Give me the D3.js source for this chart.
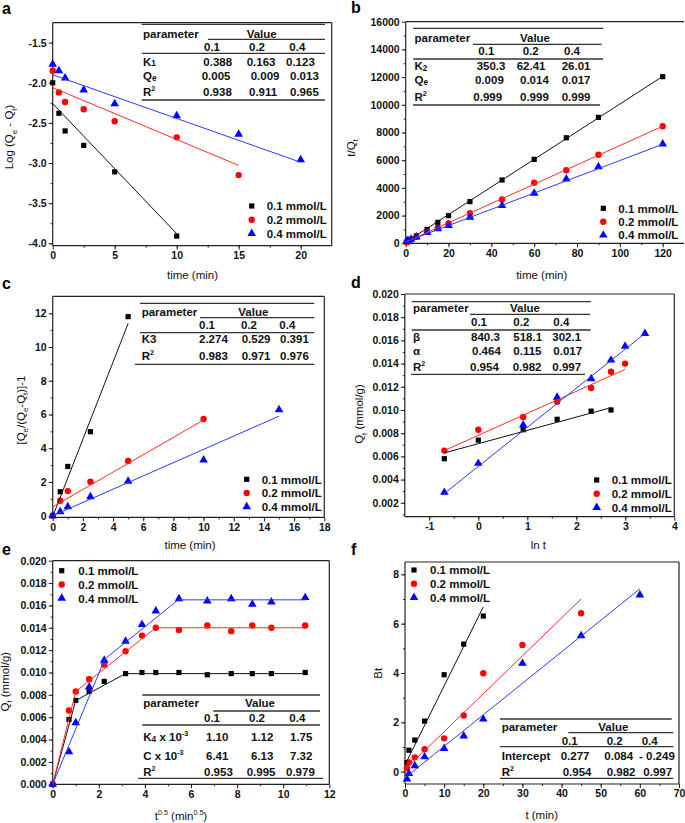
<!DOCTYPE html>
<html><head><meta charset="utf-8">
<script src="https://cdn.jsdelivr.net/npm/d3@7"></script>
<style>
body{margin:0;background:#fff}
text{font-family:"Liberation Sans",Arial,Helvetica,sans-serif}
</style>
</head><body>
<svg id="c" width="685" height="823"></svg>
<script>
// ---------------- DATA ----------------
const seriesLabels = ["0.1 mmol/L", "0.2 mmol/L", "0.4 mmol/L"];
const concHeaders = ["0.1", "0.2", "0.4"];

// (a) pseudo-first-order
const aTime = [0, 0.5, 1, 2.5, 5, 10, 15, 20];
const aLog01 = [-2.00, -2.38, -2.60, -2.78, -3.11, -3.91];
const aLog02 = [-1.85, -2.12, -2.24, -2.33, -2.48, -2.68, -3.15];
const aLog04 = [-1.77, -1.85, -1.94, -2.09, -2.26, -2.41, -2.64, -2.96];
const aFit01 = [[0, -2.26], [10, -3.88]];
const aFit02 = [[0, -2.06], [15, -3.03]];
const aFit04 = [[0, -1.90], [20, -2.99]];
const aXTicks = [0, 5, 10, 15, 20];
const aYTicks = [-4.0, -3.5, -3.0, -2.5, -2.0, -1.5];
const aRowLabels = [[["K", ""], ["1", "low"]], [["Q", ""], ["e", "low"]], [["R", ""], ["2", "sup"]]];
const aValues = [["0.388", "0.163", "0.123"], ["0.005", "0.009", "0.013"], ["0.938", "0.911", "0.965"]];

// (b) pseudo-second-order
const bTime = [0.5, 1, 2.5, 5, 10, 15, 20, 30, 45, 60, 75, 90, 120];
const bTQ01 = [86, 133, 300, 540, 1000, 1510, 2000, 3010, 4570, 6060, 7620, 9090, 12030];
const bTQ02 = [76, 120, 266, 467, 840, 1128, 1430, 2170, 3170, 4380, 5270, 6400, 8450];
const bTQ04 = [172, 182, 287, 450, 780, 1050, 1290, 1877, 2720, 3610, 4640, 5530, 7170];
const bFit01 = [[0, 80], [120, 12050]];
const bFit02 = [[0, 90], [120, 8450]];
const bFit04 = [[0, 110], [120, 7150]];
const bXTicks = [0, 20, 40, 60, 80, 100, 120];
const bYTicks = [0, 2000, 4000, 6000, 8000, 10000, 12000, 14000, 16000];
const bRowLabels = [[["K", ""], ["2", "low"]], [["Q", ""], ["e", "low"]], [["R", ""], ["2", "sup"]]];
const bValues = [["350.3", "62.41", "26.01"], ["0.009", "0.014", "0.017"], ["0.999", "0.999", "0.999"]];

// (c)
const cTime = [0, 0.5, 1, 2.5, 5, 10, 15];
const cY01 = [0, 1.42, 2.92, 4.98, 11.8];
const cY02 = [0, 0.89, 1.46, 2.02, 3.24, 5.73];
const cY04 = [0, 0.24, 0.53, 1.13, 2.04, 3.30, 6.28];
const cFit01 = [[0, -0.05], [5, 11.4]];
const cFit02 = [[0, 0.53], [10, 5.67]];
const cFit04 = [[0, 0], [15, 5.9]];
const cXTicks = [0, 2, 4, 6, 8, 10, 12, 14, 16, 18];
const cYTicks = [0, 2, 4, 6, 8, 10, 12];
const cRowLabels = [[["K3", ""]], [["R", ""], ["2", "sup"]]];
const cValues = [["2.274", "0.529", "0.391"], ["0.983", "0.971", "0.976"]];

// (d) Elovich
const dLnT = [-0.693, 0, 0.916, 1.609, 2.303, 2.708, 2.996, 3.401];
const dQ01 = [0.0058, 0.0074, 0.0083, 0.0092, 0.0099, 0.0100];
const dQ02 = [0.0065, 0.0083, 0.0094, 0.0107, 0.0119, 0.0133, 0.0140];
const dQ04 = [0.0029, 0.0054, 0.0087, 0.0111, 0.0127, 0.0143, 0.0155, 0.0166];
const dFit01 = [[-0.693, 0.0063], [2.708, 0.0102]];
const dFit02 = [[-0.693, 0.0065], [2.996, 0.0135]];
const dFit04 = [[-0.693, 0.0028], [3.401, 0.0166]];
const dXTicks = [-1, 0, 1, 2, 3, 4];
const dYTicks = [0.002, 0.004, 0.006, 0.008, 0.010, 0.012, 0.014, 0.016, 0.018, 0.020];
const dRowLabels = [[["β", ""]], [["α", ""]], [["R", ""], ["2", "sup"]]];
const dValues = [["840.3", "518.1", "302.1"], ["0.464", "0.115", "0.017"], ["0.954", "0.982", "0.997"]];

// (e) intraparticle diffusion
const eSqrtT = [0, 0.707, 1, 1.581, 2.236, 3.162, 3.873, 4.472, 5.477, 6.708, 7.746, 8.660, 9.487, 10.954];
const eQ01 = [0, 0.0058, 0.0075, 0.0083, 0.0092, 0.0099, 0.0100, 0.0100, 0.0100, 0.0098, 0.0099, 0.0099, 0.0099, 0.0100];
const eQ02 = [0, 0.0066, 0.0083, 0.0094, 0.0107, 0.0119, 0.0133, 0.0140, 0.0138, 0.0142, 0.0137, 0.0142, 0.0140, 0.0142];
const eQ04 = [0, 0.0029, 0.0055, 0.0087, 0.0111, 0.0128, 0.0143, 0.0155, 0.0166, 0.0164, 0.0166, 0.0161, 0.0163, 0.0167];
const eFit01 = [[0, 0], [1, 0.0075], [3.162, 0.0099], [10.954, 0.0099]];
const eFit02 = [[0, 0], [1, 0.0083], [4.47, 0.0140], [10.954, 0.0140]];
const eFit04 = [[0, 0], [2.26, 0.0112], [5.45, 0.0165], [10.954, 0.0165]];
const eXTicks = [0, 2, 4, 6, 8, 10, 12];
const eYTicks = [0, 0.002, 0.004, 0.006, 0.008, 0.010, 0.012, 0.014, 0.016, 0.018, 0.020];
const eRowLabels = [[["K", ""], ["4", "low"], [" x 10", ""], ["-3", "sup"]], [["C x 10", ""], ["-3", "sup"]], [["R", ""], ["2", "sup"]]];
const eValues = [["1.10", "1.12", "1.75"], ["6.41", "6.13", "7.32"], ["0.953", "0.995", "0.979"]];

// (f) Boyd
const fTime = [0.5, 1, 2.5, 5, 10, 15, 20, 30, 45, 60];
const fBt01 = [0.37, 0.87, 1.28, 2.05, 3.93, 5.17, 6.31];
const fBt02 = [0.14, 0.37, 0.58, 0.91, 1.35, 2.28, 3.99, 5.14, 6.42];
const fBt04 = [-0.30, -0.08, 0.24, 0.60, 0.94, 1.45, 2.13, 4.39, 5.51, 7.16];
const fFit01 = [[0, 0.277], [20, 6.68]];
const fFit02 = [[0, 0.084], [45, 7.0]];
const fFit04 = [[0, -0.249], [60, 7.41]];
const fXTicks = [0, 10, 20, 30, 40, 50, 60, 70];
const fYTicks = [0, 2, 4, 6, 8];
const fRowLabels = [[["Intercept", ""]], [["R", ""], ["2", "sup"]]];
const fValues = [["0.277", "0.084", "- 0.249"], ["0.954", "0.982", "0.997"]];

// ---------------- DRAWING ----------------
const svg = d3.select("#c");
const colors = ["#000000", "#ff0000", "#0000ff"];
const lineColors = ["#111111", "#ff2a2a", "#2a3cff"];
const symbols = [d3.symbol(d3.symbolSquare, 27)(), d3.symbol(d3.symbolCircle, 32)(), d3.symbol(d3.symbolTriangle, 32)()];

function rich(t, parts, size) {
  let cur = 0;
  parts.forEach(([s, k]) => {
    let target = 0, fs = size;
    if (k === "sub") { target = size * 0.3; fs = size * 0.68; }
    else if (k === "sup") { target = -size * 0.42; fs = size * 0.62; }
    else if (k === "low") { target = size * 0.08; fs = size * 0.72; }
    t.append("tspan").attr("dy", target - cur).attr("font-size", fs).text(s);
    cur = target;
  });
}

function drawPanel(p) {
  const g = svg.append("g");
  const x = d3.scaleLinear().domain(p.xDom).range([p.L, p.R]);
  const y = d3.scaleLinear().domain(p.yDom).range([p.B, p.T]);

  const minorX = d3.range(p.xDom[0], p.xDom[1] + 1e-9, p.xMinorStep).filter(v => v > p.xDom[0] + 1e-9 && v < p.xDom[1] - 1e-9);
  const minorY = d3.range(Math.ceil(p.yDom[0] / p.yMinorStep - 1e-6) * p.yMinorStep, p.yDom[1] + 1e-12, p.yMinorStep).filter(v => v > p.yDom[0] && v < p.yDom[1] - 1e-12);

  g.append("g").attr("transform", `translate(0,${p.B})`)
    .call(d3.axisBottom(x).tickValues(minorX).tickFormat("").tickSize(2).tickSizeOuter(0));
  g.append("g").attr("transform", `translate(${p.L},0)`)
    .call(d3.axisLeft(y).tickValues(minorY).tickFormat("").tickSize(2).tickSizeOuter(0));
  g.append("g").attr("class", "ax").attr("transform", `translate(0,${p.B})`)
    .call(d3.axisBottom(x).tickValues(p.xTicks).tickFormat(p.xFmt).tickSize(4).tickPadding(2).tickSizeOuter(0));
  g.append("g").attr("class", "ax").attr("transform", `translate(${p.L},0)`)
    .call(d3.axisLeft(y).tickValues(p.yTicks).tickFormat(p.yFmt).tickSize(4).tickPadding(2).tickSizeOuter(0));
  g.selectAll(".domain").remove();
  g.selectAll(".tick line").attr("stroke", "#222").attr("stroke-width", 1);
  g.selectAll(".tick text").attr("font-size", 10.5).attr("font-weight", "bold").attr("fill", "#111")
    .attr("font-family", '"Liberation Sans",Arial,sans-serif');

  // frame
  const fr = g.append("g").attr("stroke", "#222").attr("stroke-width", 1.2).attr("fill", "none");
  fr.append("line").attr("x1", p.L).attr("x2", p.L).attr("y1", p.T).attr("y2", p.B);
  fr.append("line").attr("x1", p.L).attr("x2", p.R).attr("y1", p.B).attr("y2", p.B);
  fr.append("line").attr("x1", p.L).attr("x2", p.R).attr("y1", p.T).attr("y2", p.T);
  if (!p.noRight) fr.append("line").attr("x1", p.R).attr("x2", p.R).attr("y1", p.T).attr("y2", p.B);

  // points
  p.series.forEach((s, i) => {
    const pts = s.map((v, j) => [p.xs[j], v]);
    g.append("g").selectAll("path").data(pts).join("path")
      .attr("transform", d => `translate(${x(d[0])},${y(d[1])})`)
      .attr("d", symbols[i]).attr("fill", colors[i]);
  });
  // fit lines
  const line = d3.line().x(d => x(d[0])).y(d => y(d[1]));
  p.fits.forEach((f, i) => {
    g.append("path").datum(f).attr("d", line).attr("fill", "none")
      .attr("stroke", lineColors[i]).attr("stroke-width", 1);
  });

  // legend
  const lg = p.legend;
  seriesLabels.forEach((lab, i) => {
    const cy = lg.y + i * lg.dy;
    g.append("path").attr("transform", `translate(${lg.mx},${cy})`).attr("d", symbols[i]).attr("fill", colors[i]);
    g.append("text").attr("x", lg.tx).attr("y", cy + 4.2).attr("font-size", 11.5).attr("font-weight", "bold")
      .attr("fill", "#111").text(lab);
  });

  // table
  const tb = p.table;
  const tl = g.append("g").attr("stroke", "#333").attr("stroke-width", 1.3);
  tb.lines.forEach(([y0, x0, x1]) => tl.append("line").attr("x1", x0).attr("x2", x1).attr("y1", y0).attr("y2", y0));
  const tt = g.append("g").attr("font-size", 11.5).attr("font-weight", "bold").attr("fill", "#111");
  tt.append("text").attr("x", tb.labelX).attr("y", tb.titleY).text("parameter");
  tt.append("text").attr("x", tb.valueX).attr("y", tb.titleY).attr("text-anchor", "middle").text("Value");
  concHeaders.forEach((h, j) => tt.append("text").attr("x", tb.headX[j]).attr("y", tb.headY).text(h));
  p.rowLabels.forEach((parts, r) => {
    const t = tt.append("text").attr("x", tb.labelX).attr("y", tb.rowY[r]);
    rich(t, parts, 11.5);
    p.values[r].forEach((v, j) => tt.append("text").attr("x", tb.colX[r][j]).attr("y", tb.rowY[r]).text(v));
  });

  // axis titles
  const xt = g.append("text").attr("x", p.xTitle.x).attr("y", p.xTitle.y).attr("text-anchor", "middle")
    .attr("font-size", 11.5).attr("fill", "#111");
  rich(xt, p.xTitle.parts, 11.5);
  const yt = g.append("text").attr("transform", `translate(${p.yTitle.x},${p.yTitle.y}) rotate(-90)`)
    .attr("text-anchor", "middle").attr("dy", "0.35em").attr("font-size", 11.5).attr("fill", "#111");
  rich(yt, p.yTitle.parts, 11.5);

  // panel letter
  g.append("text").attr("x", p.letter.x).attr("y", p.letter.y).attr("font-size", 16).attr("font-weight", "bold")
    .attr("fill", "#000").text(p.letter.t);
}

const f1 = d => d.toFixed(1), f3 = d => d.toFixed(3), fi = d => String(d);

drawPanel({
  L: 52.7, R: 331.7, T: 22.6, B: 245.7, xDom: [0, 22.5], yDom: [-4.03, -1.25],
  xTicks: aXTicks, yTicks: aYTicks, xFmt: fi, yFmt: f1, xMinorStep: 2.5, yMinorStep: 0.25,
  xs: aTime, series: [aLog01, aLog02, aLog04], fits: [aFit01, aFit02, aFit04],
  legend: { mx: 251.7, tx: 266.7, y: 206, dy: 13.7 },
  rowLabels: aRowLabels, values: aValues,
  table: {
    lines: [[24.3, 141.7, 325], [39.3, 208, 325], [53.3, 141.7, 325], [100, 141.7, 325]],
    labelX: 143, titleY: 37.5, valueX: 261.7, headY: 51.3, headX: [204, 249, 289.3],
    rowY: [65.5, 80, 95.5], colX: [[203.3, 246.7, 286], [201.7, 250.7, 290], [203, 249, 290]]
  },
  xTitle: { x: 192.5, y: 279, parts: [["time (min)", ""]] },
  yTitle: { x: 13.3, y: 137, parts: [["Log (Q", ""], ["e", "sub"], [" - Q", ""], ["t", "sub"], [")", ""]] },
  letter: { x: 2, y: 13.5, t: "a" }
});

drawPanel({
  L: 405.7, R: 684.1, T: 21.7, B: 243.3, xDom: [0, 130], yDom: [0, 16000], noRight: true,
  xTicks: bXTicks, yTicks: bYTicks, xFmt: fi, yFmt: fi, xMinorStep: 10, yMinorStep: 1000,
  xs: bTime, series: [bTQ01, bTQ02, bTQ04], fits: [bFit01, bFit02, bFit04],
  legend: { mx: 603.3, tx: 618.3, y: 208.3, dy: 13.4 },
  rowLabels: bRowLabels, values: bValues,
  table: {
    lines: [[28.3, 413.3, 603.3], [44.3, 473, 601.7], [59, 413.3, 603], [105, 413, 600]],
    labelX: 414.5, titleY: 41.5, valueX: 535, headY: 55.3, headX: [478.3, 522.7, 564],
    rowY: [69.7, 84, 100.5], colX: [[476.7, 516.7, 561.7], [475, 520, 561.7], [473.3, 520, 561.7]]
  },
  xTitle: { x: 541.7, y: 279, parts: [["time (min)", ""]] },
  yTitle: { x: 355, y: 148, parts: [["t/Q", ""], ["t", "sub"]] },
  letter: { x: 351, y: 13.3, t: "b" }
});

drawPanel({
  L: 52.7, R: 324.3, T: 296.4, B: 517.4, xDom: [0, 18], yDom: [-0.1, 13],
  xTicks: cXTicks, yTicks: cYTicks, xFmt: fi, yFmt: fi, xMinorStep: 1, yMinorStep: 1,
  xs: cTime, series: [cY01, cY02, cY04], fits: [cFit01, cFit02, cFit04],
  legend: { mx: 246.7, tx: 261.7, y: 479.3, dy: 13.7 },
  rowLabels: cRowLabels, values: cValues,
  table: {
    lines: [[303.3, 140, 314.3], [317.7, 200, 314.3], [332.7, 140, 314.3], [364.3, 135, 314.3]],
    labelX: 141.7, titleY: 315.5, valueX: 253.3, headY: 329, headX: [199, 241, 279.3],
    rowY: [343.3, 360], colX: [[199, 241.7, 280], [199, 241.7, 280]]
  },
  xTitle: { x: 190, y: 549, parts: [["time (min)", ""]] },
  yTitle: { x: 25, y: 410, parts: [["[Q", ""], ["e", "sub"], ["/(Q", ""], ["e", "sub"], ["-Q", ""], ["t", "sub"], [")]-1", ""]] },
  letter: { x: 2, y: 289, t: "c" }
});

drawPanel({
  L: 404.8, R: 674.3, T: 294, B: 516.7, xDom: [-1.5, 4], yDom: [0.0008, 0.020],
  xTicks: dXTicks, yTicks: dYTicks, xFmt: fi, yFmt: f3, xMinorStep: 0.5, yMinorStep: 0.001,
  xs: dLnT, series: [dQ01, dQ02, dQ04], fits: [dFit01, dFit02, dFit04],
  legend: { mx: 596.7, tx: 611.7, y: 480, dy: 13.7 },
  rowLabels: dRowLabels, values: dValues,
  table: {
    lines: [[301.7, 411.7, 590.7], [314.3, 470, 590], [330, 411.7, 590.7], [374.3, 411, 585]],
    labelX: 413, titleY: 311.7, valueX: 525, headY: 326.3, headX: [471, 513.3, 553.3],
    rowY: [340.7, 354.7, 370.7], colX: [[471, 513.3, 552.3], [472, 513.3, 553.3], [470, 512.7, 552.3]]
  },
  xTitle: { x: 538.3, y: 549, parts: [["ln t", ""]] },
  yTitle: { x: 363.3, y: 414, parts: [["Q", ""], ["t", "sub"], [" (mmol/g)", ""]] },
  letter: { x: 351, y: 288.3, t: "d" }
});

drawPanel({
  L: 52.7, R: 329.3, T: 560.7, B: 784.3, xDom: [0, 12], yDom: [0, 0.020],
  xTicks: eXTicks, yTicks: eYTicks, xFmt: fi, yFmt: f3, xMinorStep: 1, yMinorStep: 0.001,
  xs: eSqrtT, series: [eQ01, eQ02, eQ04], fits: [eFit01, eFit02, eFit04],
  legend: { mx: 61.7, tx: 78.3, y: 570.7, dy: 13.8 },
  rowLabels: eRowLabels, values: eValues,
  table: {
    lines: [[695, 142.3, 320], [711, 213.3, 320], [725, 142.3, 320], [778.3, 138, 323]],
    labelX: 143.3, titleY: 707.3, valueX: 260, headY: 722.3, headX: [204, 249, 289.3],
    rowY: [740.7, 760, 775.7], colX: [[206, 251, 290], [206, 251, 290], [204, 246.7, 286]]
  },
  xTitle: { x: 181, y: 820, parts: [["t", ""], ["0.5", "sup"], [" (min", ""], ["0.5", "sup"], [")", ""]] },
  yTitle: { x: 9, y: 681.7, parts: [["Q", ""], ["t", "sub"], [" (mmol/g)", ""]] },
  letter: { x: 2, y: 555, t: "e" }
});

drawPanel({
  L: 405, R: 679, T: 562, B: 784, xDom: [0, 70], yDom: [-0.5, 8.5],
  xTicks: fXTicks, yTicks: fYTicks, xFmt: fi, yFmt: fi, xMinorStep: 5, yMinorStep: 1,
  xs: fTime, series: [fBt01, fBt02, fBt04], fits: [fFit01, fFit02, fFit04],
  legend: { mx: 414, tx: 430, y: 570, dy: 13.7 },
  rowLabels: fRowLabels, values: fValues,
  table: {
    lines: [[719, 500, 671.7], [732.7, 568.3, 673.3], [746.7, 500, 673.3], [778.3, 500, 673.3]],
    labelX: 501.7, titleY: 731.3, valueX: 613.3, headY: 745.3, headX: [561.7, 606.7, 641.7],
    rowY: [759.7, 775.7], colX: [[560.7, 604.3, 639], [562.7, 606.7, 643.3]]
  },
  xTitle: { x: 541.7, y: 819, parts: [["t (min)", ""]] },
  yTitle: { x: 381.7, y: 673.3, parts: [["Bt", ""]] },
  letter: { x: 351, y: 555, t: "f" }
});
</script>
</body></html>
